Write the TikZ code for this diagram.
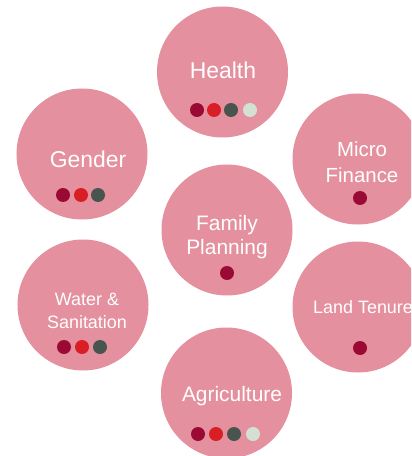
\documentclass[tikz,border=0pt]{standalone}
\usepackage{fontspec}
\setmainfont{Liberation Sans}
\definecolor{bubble}{HTML}{E4909F}
\definecolor{dotA}{HTML}{9B0A35}
\definecolor{dotB}{HTML}{D91E25}
\definecolor{dotC}{HTML}{48554F}
\definecolor{dotD}{HTML}{D3E0D3}
\tikzset{
  bubblenode/.style={circle, fill=bubble, draw=none, minimum size=131bp, inner sep=0pt},
  lbl/.style={text=white, align=center, inner sep=0pt},
  dotnode/.style={circle, draw=none, minimum size=14bp, inner sep=0pt},
}
\begin{document}
\begin{tikzpicture}[x=1bp,y=-1bp]
\useasboundingbox (0,0) rectangle (411,456);
\clip (0,0) rectangle (411,456);
% circles
\node[bubblenode] (health) at (222.5,72) {};
\node[bubblenode] (gender) at (82,154) {};
\node[bubblenode] (micro) at (358,159) {};
\node[bubblenode] (family) at (227,230) {};
\node[bubblenode] (water) at (83,305) {};
\node[bubblenode] (land) at (358,307) {};
\node[bubblenode] (agri) at (226.5,393) {};
% labels
\node[lbl, font=\fontsize{23}{26}\selectfont] (thealth) at (223,70) {Health};
\node[lbl, font=\fontsize{23}{26}\selectfont] (tgender) at (88,159) {Gender};
\node[lbl, font=\fontsize{20.5}{26}\selectfont] (tmicro) at (362,162) {Micro\\Finance};
\node[lbl, font=\fontsize{21}{24.5}\selectfont] (tfamily) at (227,237) {Family\\Planning};
\node[lbl, font=\fontsize{18}{23}\selectfont] (twater) at (87,310.5) {Water \&\\Sanitation};
\node[lbl, font=\fontsize{18}{22}\selectfont, anchor=west] (tland) at (313,307) {Land Tenure};
\node[lbl, font=\fontsize{21}{24}\selectfont] (tagri) at (232,396) {Agriculture};
% dots
\node[dotnode, fill=dotA] (h1) at (197,110) {};
\node[dotnode, fill=dotB] (h2) at (214,110) {};
\node[dotnode, fill=dotC] (h3) at (231,110) {};
\node[dotnode, fill=dotD] (h4) at (250,110) {};
\node[dotnode, fill=dotA] (g1) at (63,195) {};
\node[dotnode, fill=dotB] (g2) at (81,195) {};
\node[dotnode, fill=dotC] (g3) at (98,195) {};
\node[dotnode, fill=dotA] (m1) at (360,198) {};
\node[dotnode, fill=dotA] (f1) at (227,273) {};
\node[dotnode, fill=dotA] (w1) at (64,347) {};
\node[dotnode, fill=dotB] (w2) at (82,347) {};
\node[dotnode, fill=dotC] (w3) at (100,347) {};
\node[dotnode, fill=dotA] (l1) at (360,348) {};
\node[dotnode, fill=dotA] (a1) at (198,434) {};
\node[dotnode, fill=dotB] (a2) at (216,434) {};
\node[dotnode, fill=dotC] (a3) at (234,434) {};
\node[dotnode, fill=dotD] (a4) at (253,434) {};
\end{tikzpicture}
\end{document}
